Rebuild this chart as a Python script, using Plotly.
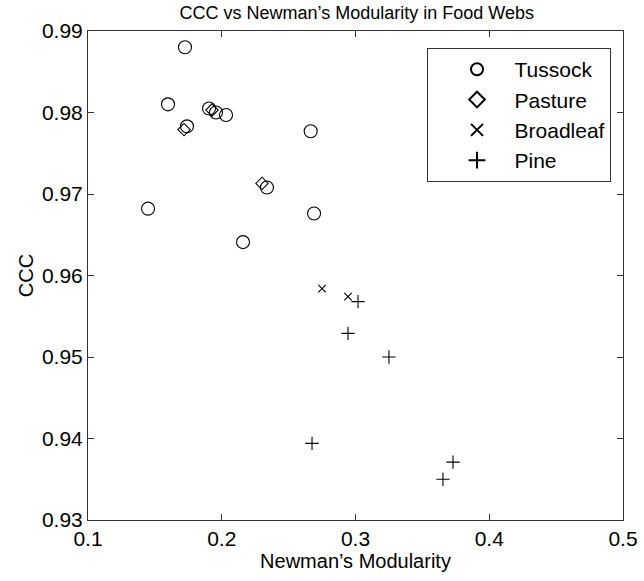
import plotly.graph_objects as go

tussock_x = [0.1725, 0.1598, 0.1905, 0.1957, 0.2032, 0.1740, 0.2665, 0.2338, 0.1449, 0.2690, 0.2159]
tussock_y = [0.9880, 0.9810, 0.9805, 0.9800, 0.9797, 0.9783, 0.9777, 0.9708, 0.9682, 0.9676, 0.9641]
pasture_x = [0.1927, 0.1718, 0.2301]
pasture_y = [0.9803, 0.9779, 0.9713]
broadleaf_x = [0.2750, 0.2944]
broadleaf_y = [0.9584, 0.9574]
pine_x = [0.3019, 0.2944, 0.3250, 0.2675, 0.3654, 0.3729]
pine_y = [0.9568, 0.9529, 0.9500, 0.9394, 0.9350, 0.9371]

xticks = [0.1, 0.2, 0.3, 0.4, 0.5]
yticks = [0.93, 0.94, 0.95, 0.96, 0.97, 0.98, 0.99]

FONT = "Liberation Sans, Arial, sans-serif"
PAD = "\u00a0\u00a0\u00a0"

fig = go.Figure()
series = [
    ("Tussock", tussock_x, tussock_y, "circle-open", 13),
    ("Pasture", pasture_x, pasture_y, "diamond-open", 9.5),
    ("Broadleaf", broadleaf_x, broadleaf_y, "x-thin-open", 7.5),
    ("Pine", pine_x, pine_y, "cross-thin-open", 9.5),
]
for name, xs, ys, sym, sz in series:
    fig.add_trace(go.Scatter(
        x=xs, y=ys, mode="markers", name=PAD + name,
        marker=dict(symbol=sym, size=sz, color="black",
                    line=dict(color="black", width=1.1)),
    ))

axis_common = dict(
    showgrid=False, zeroline=False, showline=True, linecolor="#333333",
    linewidth=1, mirror="ticks", ticks="inside", ticklen=6, tickcolor="#333333",
    automargin=False,
    tickfont=dict(family=FONT, size=21, color="black"),
)
fig.update_xaxes(range=[0.1, 0.5], tickvals=xticks,
                 ticktext=[f"{v:g}" for v in xticks],
                 title=dict(text="Newman’s Modularity", font=dict(family=FONT, size=20, color="black"), standoff=3),
                 **axis_common)
fig.update_yaxes(range=[0.93, 0.99], tickvals=yticks,
                 ticktext=[f"{v:.2f}" for v in yticks],
                 title=dict(text="CCC", font=dict(family=FONT, size=20, color="black"), standoff=2),
                 **axis_common)

fig.update_layout(
    width=644, height=581,
    margin=dict(l=88, r=21, t=31, b=61, autoexpand=False),
    paper_bgcolor="white", plot_bgcolor="white",
    title=dict(text="CCC vs Newman’s Modularity in Food Webs", x=0.554, xanchor="center",
               y=0.979, yanchor="middle",
               font=dict(family=FONT, size=18, color="black")),
    legend=dict(x=0.9776, y=0.965, xanchor="right", yanchor="top",
                bordercolor="#333333", borderwidth=1, bgcolor="white",
                font=dict(family=FONT, size=21, color="black"),
                indentation=29,
                itemsizing="constant", tracegroupgap=0),
    showlegend=True,
)

fig.write_html("out.html", config={"displayModeBar": False},
               post_script="document.body.style.margin='0';document.body.style.overflow='hidden';")
